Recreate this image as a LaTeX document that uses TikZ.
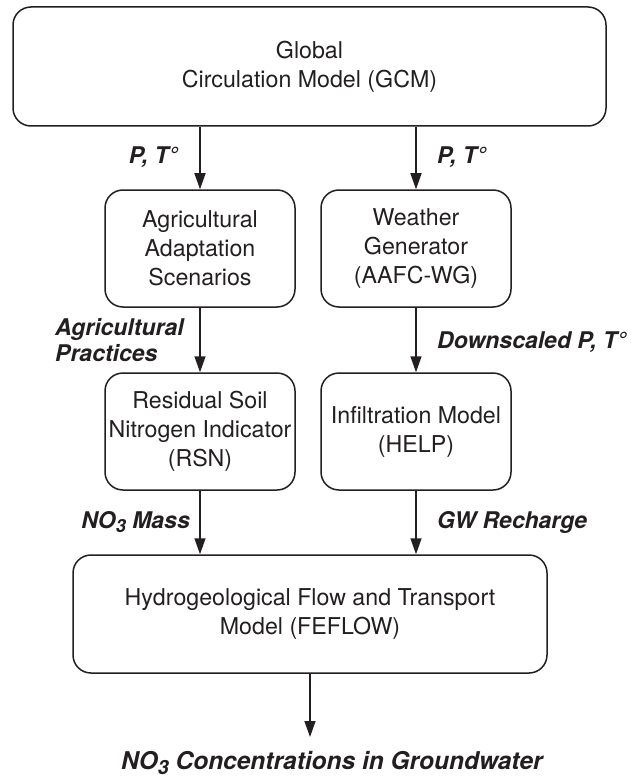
\documentclass[tikz,border=0pt]{standalone}
\usepackage{fontspec}
\setmainfont{TeX Gyre Heros}
\usetikzlibrary{arrows.meta}
\definecolor{ink}{HTML}{231F20}
\newcommand{\subthree}{\raisebox{-0.35ex}{\fontsize{18}{18}\selectfont 3}}
\newcommand{\subthreebig}{\raisebox{-0.35ex}{\fontsize{19.5}{19.5}\selectfont 3}}
\begin{document}
\begin{tikzpicture}[x=1pt,y=-1pt,
  box/.style={draw=ink, line width=1.5pt, rounded corners=18pt, align=center,
    inner sep=0pt, text=ink, font=\fontsize{23.2}{29}\selectfont},
  lbl/.style={text=ink, inner sep=0pt, font=\fontsize{23}{26}\selectfont\bfseries\itshape},
  flow/.style={draw=ink, line width=1.5pt, -{Triangle[length=16pt,width=11pt]}}]
\useasboundingbox (0,0) rectangle (641,778);

\node[box, minimum width=593pt, minimum height=119pt] (gcm) at (309.5,66.5)
  {Global\\Circulation Model (GCM)};
\node[box, minimum width=190pt, minimum height=117pt] (aas) at (200,248.5)
  {Agricultural\\Adaptation\\Scenarios};
\node[box, minimum width=190pt, minimum height=117pt] (wg) at (416,248.5)
  {Weather\\Generator\\(AAFC-WG)};
\node[box, minimum width=190pt, minimum height=117pt] (rsn) at (200,431.5)
  {Residual Soil\\Nitrogen Indicator\\(RSN)};
\node[box, minimum width=190pt, minimum height=117pt] (help) at (416,431.5)
  {Infiltration Model\\(HELP)};
\node[box, minimum width=474pt, minimum height=118pt] (fe) at (310,614)
  {Hydrogeological Flow and Transport\\Model (FEFLOW)};

\node[lbl, anchor=west, font=\fontsize{24.5}{28}\selectfont\bfseries\itshape] (out) at (121,763)
  {NO\subthreebig{} Concentrations in Groundwater};
\coordinate (tip) at (310,737);

\draw[flow] (gcm.south -| aas.north) -- (aas.north);
\draw[flow] (gcm.south -| wg.north) -- (wg.north);
\draw[flow] (aas) -- (rsn);
\draw[flow] (wg) -- (help);
\draw[flow] (rsn.south) -- (rsn.south |- fe.north);
\draw[flow] (help.south) -- (help.south |- fe.north);
\draw[flow] (fe.south) -- (tip);

\node[lbl, anchor=east] (l1) at (178,157) {P, T°};
\node[lbl, anchor=west] (l2) at (437,157) {P, T°};
\node[lbl, anchor=west, align=left] (l3) at (55,340) {Agricultural\\Practices};
\node[lbl, anchor=west] (l4) at (437,342) {Downscaled P, T°};
\node[lbl, anchor=east] (l5) at (190,522) {NO\subthree{} Mass};
\node[lbl, anchor=west] (l6) at (437,522) {GW Recharge};
\end{tikzpicture}
\end{document}
